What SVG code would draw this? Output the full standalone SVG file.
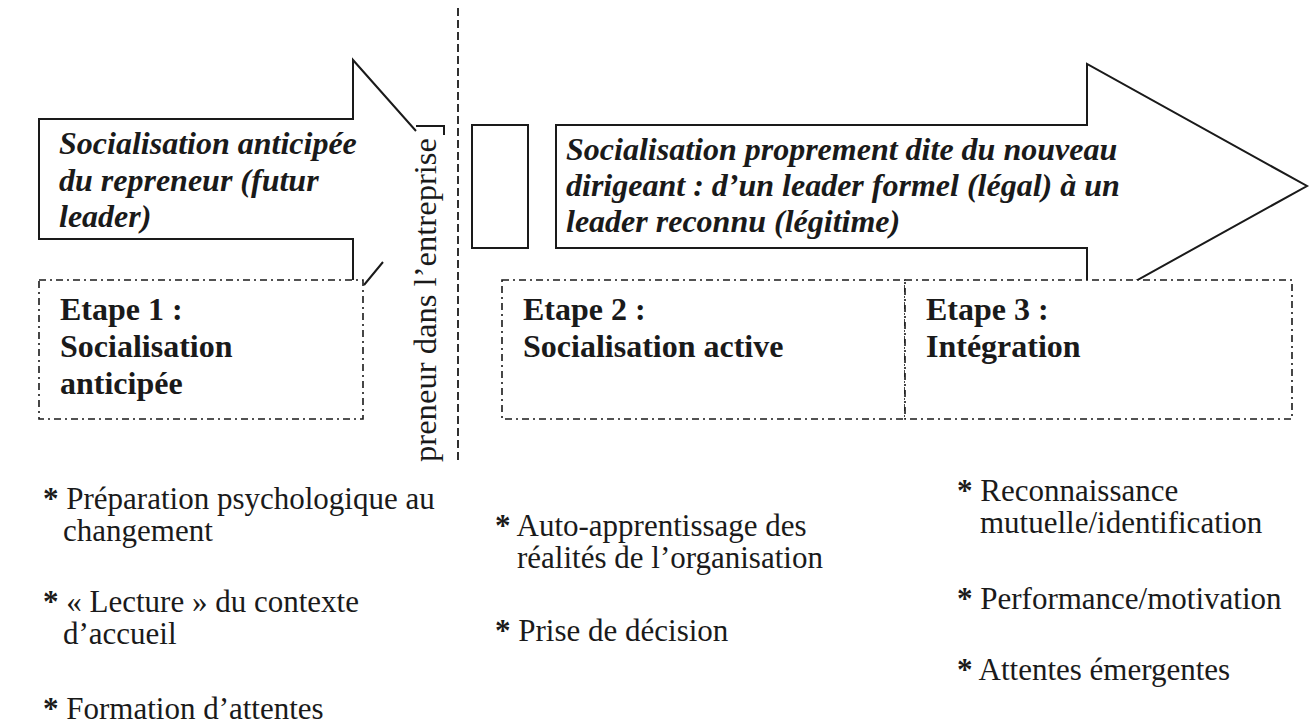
<svg xmlns="http://www.w3.org/2000/svg" width="1310" height="726" viewBox="0 0 1310 726">
<style>
.ln{fill:none;stroke:#1a1a1a;stroke-width:2}
.box{fill:#fff;stroke:#1a1a1a;stroke-width:1.6;stroke-dasharray:7 4 2 4}
.arr{fill:#fff;stroke:#1a1a1a;stroke-width:2}
.bi{font-family:"Liberation Serif","Times New Roman",serif;font-weight:bold;font-style:italic;font-size:32px;fill:#1a1a1a}
.b{font-family:"Liberation Serif","Times New Roman",serif;font-weight:bold;font-size:32px;fill:#1a1a1a}
.r{font-family:"Liberation Serif","Times New Roman",serif;font-size:31px;fill:#1a1a1a}
.st{font-weight:bold}
</style>
<rect width="1310" height="726" fill="#fff"/>

<g id="arrow-left">
<path class="ln" d="M353,281 V239 H39 V119 H353 V60 L416,131 M383,262 L364,285 M416,126 H444 V135"/>
<text class="bi" x="59" y="154">Socialisation anticipée</text>
<text class="bi" x="59" y="191">du repreneur (futur</text>
<text class="bi" x="59" y="227">leader)</text>
</g>

<g id="entry-label">
<text class="r" font-size="27" transform="translate(436,462) rotate(-90)" textLength="324" lengthAdjust="spacingAndGlyphs">preneur dans l’entreprise</text>
</g>

<g id="divider">
<line x1="458" y1="8" x2="458" y2="462" stroke="#1a1a1a" stroke-width="1.8" stroke-dasharray="8 4"/>
</g>

<g id="small-box">
<rect class="arr" x="472" y="125" width="56" height="123"/>
</g>

<g id="arrow-right">
<polygon class="arr" points="556,125 1087,125 1087,64 1307,186 1087,308 1087,248 556,248"/>
<text class="bi" x="566" y="160">Socialisation proprement dite du nouveau</text>
<text class="bi" x="566" y="196">dirigeant : d’un leader formel (légal) à un</text>
<text class="bi" x="566" y="232">leader reconnu (légitime)</text>
</g>

<g id="etape1">
<rect class="box" x="39" y="280" width="324" height="139"/>
<text class="b" x="60" y="320">Etape 1 :</text>
<text class="b" x="60" y="357">Socialisation</text>
<text class="b" x="60" y="394">anticipée</text>
</g>

<g id="etape2">
<rect class="box" x="502" y="280" width="403" height="139"/>
<text class="b" x="523" y="320">Etape 2 :</text>
<text class="b" x="523" y="357">Socialisation active</text>
</g>

<g id="etape3">
<rect class="box" x="905" y="280" width="387" height="139"/>
<text class="b" x="926" y="320">Etape 3 :</text>
<text class="b" x="926" y="357">Intégration</text>
</g>

<g id="list1">
<text class="r" x="43" y="509"><tspan class="st">*</tspan> Préparation psychologique au</text>
<text class="r" x="63" y="541">changement</text>
<text class="r" x="43" y="612"><tspan class="st">*</tspan> « Lecture » du contexte</text>
<text class="r" x="63" y="644">d’accueil</text>
<text class="r" x="43" y="719"><tspan class="st">*</tspan> Formation d’attentes</text>
</g>

<g id="list2">
<text class="r" x="495" y="536"><tspan class="st">*</tspan> Auto-apprentissage des</text>
<text class="r" x="517" y="568">réalités de l’organisation</text>
<text class="r" x="495" y="641"><tspan class="st">*</tspan> Prise de décision</text>
</g>

<g id="list3">
<text class="r" x="957" y="501"><tspan class="st">*</tspan> Reconnaissance</text>
<text class="r" x="980" y="533">mutuelle/identification</text>
<text class="r" x="957" y="609"><tspan class="st">*</tspan> Performance/motivation</text>
<text class="r" x="957" y="680"><tspan class="st">*</tspan> Attentes émergentes</text>
</g>
</svg>
